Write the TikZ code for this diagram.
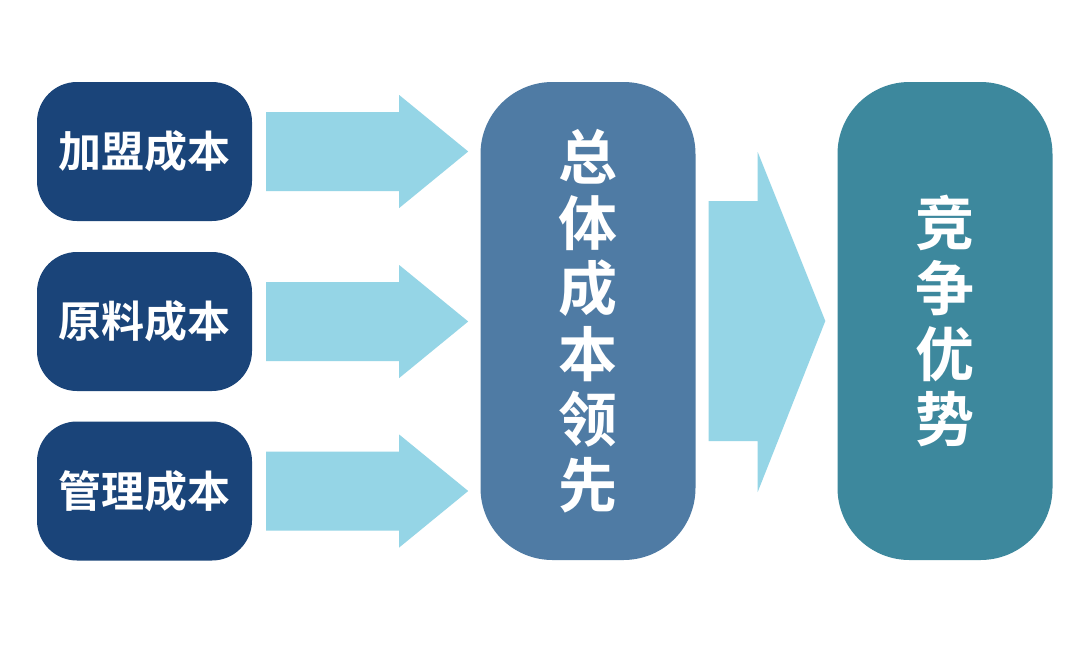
\documentclass[tikz,border=0pt]{standalone}
\usepackage{fontspec}
\newfontfamily\cjk{Noto Sans CJK SC Bold}
\definecolor{darkbox}{HTML}{1A4479}
\definecolor{midbox}{HTML}{4F7BA4}
\definecolor{rightbox}{HTML}{3D889D}
\definecolor{arrowc}{HTML}{95D5E6}
\tikzset{
  costbox/.style={fill=darkbox, rounded corners=40pt, minimum width=215pt, minimum height=139pt, inner sep=0pt, text=white, font=\cjk\fontsize{43pt}{50pt}\selectfont},
  tallbox/.style={rounded corners=72pt, minimum width=215pt, minimum height=478pt, inner sep=0pt, text=white, align=center, font=\cjk\fontsize{59pt}{65.5pt}\selectfont},
  flowarrow/.style={fill=arrowc}
}
\begin{document}
\begin{tikzpicture}[x=1pt,y=-1pt]
\useasboundingbox (0,0) rectangle (1080,657);
\fill[white] (0,0) rectangle (1080,657);
\node[costbox] (a1) at (144.5,151.5) {加盟成本};
\node[costbox] (a2) at (144.5,321.5) {原料成本};
\node[costbox] (a3) at (144.5,491) {管理成本};
\node[tallbox, fill=midbox] (m) at (588,321) {总\\体\\成\\本\\领\\先};
\node[tallbox, fill=rightbox] (r) at (945,321) {竞\\争\\优\\势};
\foreach \i in {1,2,3}{
  \fill[flowarrow] ([xshift=14pt,yshift=39.5pt]a\i.east) -- ([xshift=147pt,yshift=39.5pt]a\i.east)
    -- ([xshift=147pt,yshift=56.5pt]a\i.east) -- ([xshift=216pt]a\i.east)
    -- ([xshift=147pt,yshift=-56.5pt]a\i.east) -- ([xshift=147pt,yshift=-39.5pt]a\i.east)
    -- ([xshift=14pt,yshift=-39.5pt]a\i.east) -- cycle;
}
\fill[flowarrow] ([xshift=13pt,yshift=120pt]m.east) -- ([xshift=62pt,yshift=120pt]m.east)
  -- ([xshift=62pt,yshift=169pt]m.east) -- ([xshift=-12pt]r.west)
  -- ([xshift=62pt,yshift=-171pt]m.east) -- ([xshift=62pt,yshift=-120pt]m.east)
  -- ([xshift=13pt,yshift=-120pt]m.east) -- cycle;
\end{tikzpicture}
\end{document}
